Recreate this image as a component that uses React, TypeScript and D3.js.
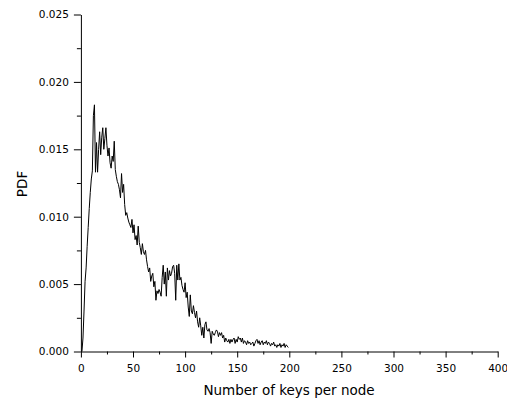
import React, { useEffect, useRef } from 'react';
import * as d3 from 'd3';

// Distribution of keys per node (key = 1 .. 199)
const firstKey = 1;
const pdfValues = [
    0.0000, 0.0010, 0.0030, 0.0052, 0.0062, 0.0078, 0.0092, 0.0106, 0.0118, 0.0128,
    0.0134, 0.0175, 0.0183, 0.0133, 0.0155, 0.0133, 0.0150, 0.0163, 0.0146, 0.0159,
    0.0166, 0.0150, 0.0158, 0.0166, 0.0153, 0.0145, 0.0151, 0.0140, 0.0136, 0.0145,
    0.0141, 0.0156, 0.0135, 0.0130, 0.0126, 0.0124, 0.0120, 0.0114, 0.0132, 0.0118,
    0.0124, 0.0109, 0.0101, 0.0103, 0.0099, 0.0096, 0.0094, 0.0092, 0.0098, 0.0088,
    0.0094, 0.0083, 0.0086, 0.0079, 0.0093, 0.0081, 0.0077, 0.0072, 0.0080, 0.0074,
    0.0072, 0.0075, 0.0068, 0.0063, 0.0059, 0.0062, 0.0052, 0.0056, 0.0058, 0.0048,
    0.0052, 0.0038, 0.0045, 0.0043, 0.0046, 0.0044, 0.0041, 0.0055, 0.0064, 0.0050,
    0.0059, 0.0041, 0.0062, 0.0053, 0.0060, 0.0056, 0.0058, 0.0063, 0.0064, 0.0058,
    0.0038, 0.0064, 0.0053, 0.0065, 0.0053, 0.0055, 0.0049, 0.0046, 0.0044, 0.0051,
    0.0040, 0.0044, 0.0033, 0.0026, 0.0042, 0.0030, 0.0028, 0.0034, 0.0029, 0.0025,
    0.0030, 0.0022, 0.0018, 0.0025, 0.0019, 0.0012, 0.0018, 0.0010, 0.0020, 0.0022,
    0.0016, 0.0015, 0.0017, 0.0014, 0.0006, 0.0015, 0.0013, 0.0012, 0.0014, 0.0016,
    0.0015, 0.0011, 0.0014, 0.0012, 0.0014, 0.0010, 0.0012, 0.0007, 0.0010, 0.0008,
    0.0007, 0.0009, 0.0006, 0.0009, 0.0007, 0.0009, 0.0010, 0.0006, 0.0009, 0.0007,
    0.0011, 0.0009, 0.0010, 0.0007, 0.0010, 0.0006, 0.0008, 0.0007, 0.0005, 0.0008,
    0.0006, 0.0007, 0.0005, 0.0006, 0.0007, 0.0004, 0.0006, 0.0008, 0.0009, 0.0006,
    0.0008, 0.0005, 0.0007, 0.0008, 0.0005, 0.0007, 0.0006, 0.0008, 0.0005, 0.0007,
    0.0006, 0.0004, 0.0006, 0.0005, 0.0007, 0.0004, 0.0005, 0.0003, 0.0005, 0.0004,
    0.0006, 0.0003, 0.0005, 0.0004, 0.0006, 0.0003, 0.0005, 0.0004, 0.0003,
];

const xMajorTicks = [0, 50, 100, 150, 200, 250, 300, 350, 400];
const xMinorTicks = [25, 75, 125, 175, 225, 275, 325, 375];
const yMajorTicks = [0, 0.005, 0.010, 0.015, 0.020, 0.025];
const yMinorTicks = [0.0025, 0.0075, 0.0125, 0.0175, 0.0225];

const xTitle = 'Number of keys per node';
const yTitle = 'PDF';

const W = 507;
const H = 402;
const FONT = '"DejaVu Sans", Verdana, sans-serif';

export default function App() {
    const svgRef = useRef<SVGSVGElement>(null);

    useEffect(() => {
        if (!svgRef.current) return;
        const svg = d3.select(svgRef.current);
        svg.selectAll('*').remove();

        const x = d3.scaleLinear().domain([0, 400]).range([80.9, 497.7]);
        const y = d3.scaleLinear().domain([0, 0.025]).range([351.5, 14.5]);
        const x0 = x.range()[0];
        const y0 = y.range()[0];

        // data curve
        const line = d3.line<number>()
            .x((_, i) => x(firstKey + i))
            .y(d => y(d));
        svg.append('path')
            .datum(pdfValues)
            .attr('d', line)
            .attr('fill', 'none')
            .attr('stroke', '#000')
            .attr('stroke-width', 1)
            .attr('stroke-linejoin', 'miter');

        // y axis: major + minor ticks
        const yAxis = svg.append('g').attr('transform', `translate(${x0},0)`);
        yAxis.call(
            d3.axisLeft(y).tickValues(yMajorTicks).tickSize(7).tickSizeOuter(0)
                .tickPadding(5).tickFormat(d3.format('.3f'))
        );
        svg.append('g').attr('transform', `translate(${x0},0)`)
            .call(d3.axisLeft(y).tickValues(yMinorTicks).tickSize(4).tickSizeOuter(0).tickFormat(() => ''))
            .select('.domain').remove();

        // x axis: major + minor ticks
        const xAxis = svg.append('g').attr('transform', `translate(0,${y0})`);
        xAxis.call(
            d3.axisBottom(x).tickValues(xMajorTicks).tickSize(6).tickSizeOuter(0)
                .tickPadding(7).tickFormat(d3.format('d'))
        );
        svg.append('g').attr('transform', `translate(0,${y0})`)
            .call(d3.axisBottom(x).tickValues(xMinorTicks).tickSize(3).tickSizeOuter(0).tickFormat(() => ''))
            .select('.domain').remove();

        svg.selectAll('.domain, .tick line').attr('stroke', '#000');
        svg.selectAll('.tick text')
            .attr('fill', '#000')
            .style('font-family', FONT)
            .style('font-size', '10.5px');

        // axis titles
        svg.append('text')
            .attr('x', 289)
            .attr('y', 395)
            .attr('text-anchor', 'middle')
            .style('font-family', FONT)
            .style('font-size', '13.5px')
            .attr('fill', '#000')
            .text(xTitle);

        svg.append('text')
            .attr('transform', `translate(27,184) rotate(-90)`)
            .attr('text-anchor', 'middle')
            .style('font-family', FONT)
            .style('font-size', '13.5px')
            .attr('fill', '#000')
            .text(yTitle);
    }, []);

    return (
        <svg
            ref={svgRef}
            width={W}
            height={H}
            style={{ position: 'absolute', left: 0, top: 0, background: '#fff', display: 'block' }}
        />
    );
}
